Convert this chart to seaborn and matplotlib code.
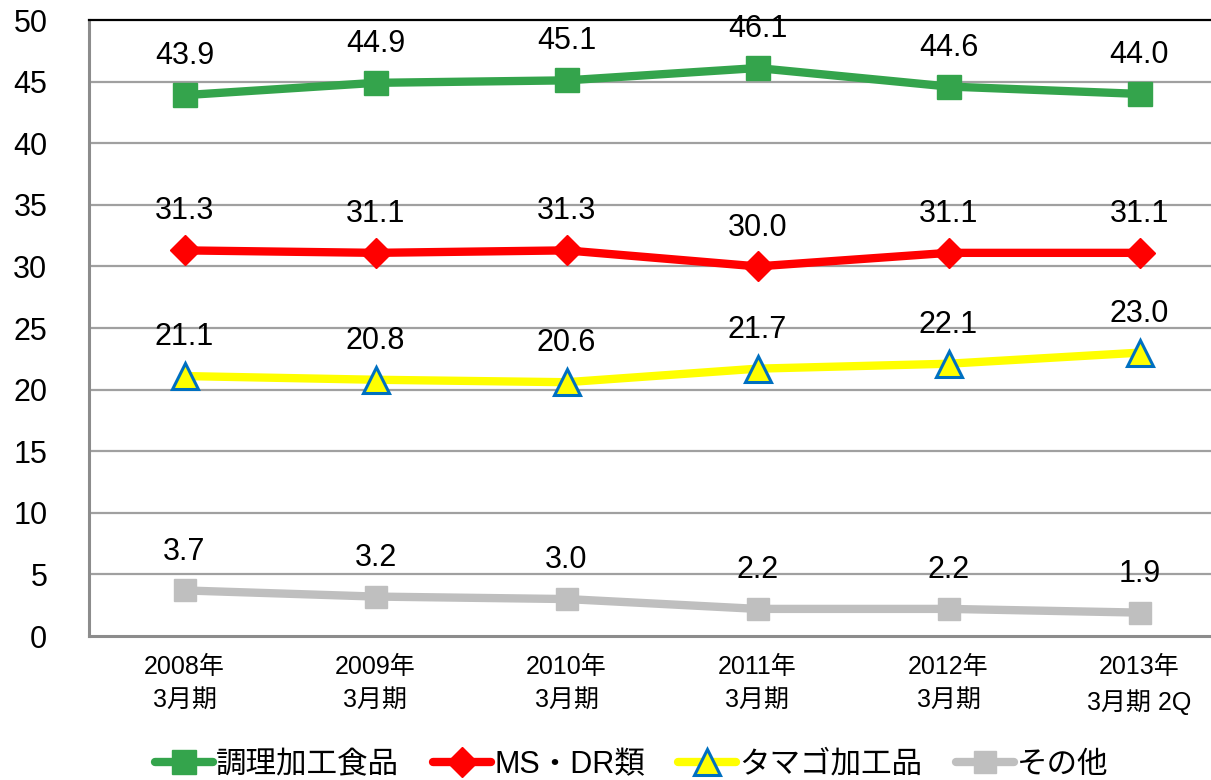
import matplotlib
matplotlib.use("Agg")
import matplotlib.pyplot as plt
import seaborn as sns
import pandas as pd

categories = ["2008年\n3月期", "2009年\n3月期", "2010年\n3月期", "2011年\n3月期", "2012年\n3月期", "2013年\n3月期 2Q"]
s_cooked = [43.9, 44.9, 45.1, 46.1, 44.6, 44.0]
s_msdr = [31.3, 31.1, 31.3, 30.0, 31.1, 31.1]
s_egg = [21.1, 20.8, 20.6, 21.7, 22.1, 23.0]
s_other = [3.7, 3.2, 3.0, 2.2, 2.2, 1.9]
series_names = ["調理加工食品", "MS・DR類", "タマゴ加工品", "その他"]
y_ticks = [0, 5, 10, 15, 20, 25, 30, 35, 40, 45, 50]

sns.set_theme(style="white")
FAM = ["Liberation Sans", "Noto Sans CJK JP", "DejaVu Sans"]
plt.rcParams["font.family"] = FAM
plt.rcParams["text.color"] = "black"

fig = plt.figure(figsize=(12.11, 7.80), dpi=100)
ax = fig.add_axes([89 / 1211, 1 - 636 / 780, 1 - 89 / 1211, (636 - 20) / 780])

x = list(range(len(categories)))
styles = [
    (s_cooked, "#34A44C", "s", 22, "#34A44C", 1.0),
    (s_msdr, "#FF0000", "D", 19, "#FF0000", 1.0),
    (s_egg, "#FFFF00", "^", 24, "#0070C0", 2.2),
    (s_other, "#BFBFBF", "s", 20, "#BFBFBF", 1.0),
]
for name, (vals, col, mk, ms, mec, mew) in zip(series_names, styles):
    df = pd.DataFrame({"x": x, "y": vals})
    sns.lineplot(data=df, x="x", y="y", ax=ax, color=col, linewidth=6,
                 marker=mk, markersize=ms, markeredgecolor=mec,
                 markeredgewidth=mew, label=name, zorder=3)
    for xi, v in zip(x, vals):
        ax.annotate(f"{v:.1f}", (xi, v), xytext=(0, 28), textcoords="offset points",
                    ha="center", va="center", fontsize=22, color="black",
                    family=FAM, zorder=5)

ax.set_xlim(-0.5, -0.5 + (1211 - 89) / 191)
ax.set_ylim(0, 50)
ax.set_yticks(y_ticks)
ax.set_yticklabels([str(t) for t in y_ticks], fontsize=22, color="black")
ax.set_xticks(x)
ax.set_xticklabels(categories, fontsize=18, linespacing=1.45, color="black")
ax.tick_params(axis="y", length=0, pad=30)
ax.tick_params(axis="x", length=0, pad=14)
ax.set_xlabel("")
ax.set_ylabel("")
for t in y_ticks[1:-1]:
    ax.axhline(t, color="#A0A0A0", linewidth=1.6, zorder=1)
ax.spines["right"].set_visible(False)
ax.spines["top"].set_color("black")
ax.spines["top"].set_linewidth(1.6)
ax.spines["left"].set_color("#8C8C8C")
ax.spines["left"].set_linewidth(2.2)
ax.spines["bottom"].set_color("#8C8C8C")
ax.spines["bottom"].set_linewidth(2.2)

ax.get_legend().remove()
handles, labels = ax.get_legend_handles_labels()
for h in handles:
    h.set_markersize(h.get_markersize() * 0.8)
fig.legend(handles, labels, loc="center", bbox_to_anchor=(632 / 1211, 1 - 765 / 780),
           ncol=4, frameon=False, fontsize=22, handlelength=1.9, handletextpad=0.1,
           columnspacing=1.1, labelcolor="black")

fig.savefig("out.png", dpi=100)
